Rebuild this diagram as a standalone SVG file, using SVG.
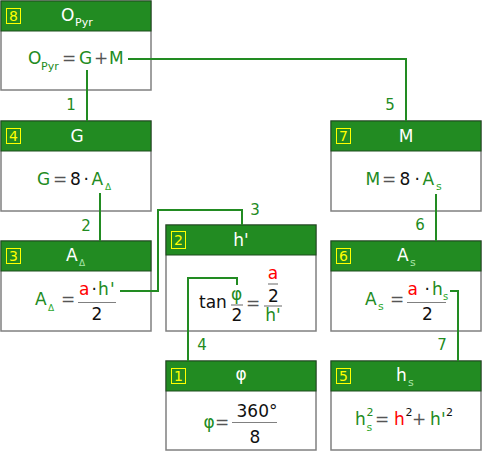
<svg xmlns="http://www.w3.org/2000/svg" width="482" height="452" viewBox="0 0 482 452">
<style>
text { font-family: "DejaVu Sans", "Liberation Sans", sans-serif; font-size: 17px; }
.body { fill: #ffffff; stroke: #808080; stroke-width: 1.5; }
.hdr { fill: #228B22; stroke: #1d4d1d; stroke-width: 1; }
.badge { fill: none; stroke: #ffff00; stroke-width: 1; }
.bnum { fill: #ffff00; font-size: 14px; text-anchor: middle; }
.title { fill: #ffffff; }
.tsub { fill: #a8e6a8; font-size: 11px; }
.v { fill: #228B22; }
.r { fill: #ff0000; }
.k { fill: #111111; }
.op { fill: #555555; }
.sub { fill: #2ea82e; font-size: 11px; }
.sup { font-size: 11px; }
.m { text-anchor: middle; }
.bar { stroke: #808080; stroke-width: 1.2; }
.conn { fill: none; stroke: #228B22; stroke-width: 2; }
.lbl { fill: #228B22; font-size: 15px; text-anchor: middle; }
</style>

<g id="node8">
  <rect class="body" x="1" y="1" width="150" height="89"/>
  <rect class="hdr" x="1" y="1" width="150" height="30"/>
  <rect class="badge" x="6.5" y="8.5" width="14" height="15"/>
  <text class="bnum" x="13.5" y="21">8</text>
  <text class="title" x="61" y="21">O</text>
  <text class="tsub" x="75" y="26" style="fill:#ffffff">Pyr</text>
  <text class="v" x="28" y="64">O</text>
  <text class="v" x="41" y="70" style="font-size:11px">Pyr</text>
  <text class="op" x="62" y="64">=</text>
  <text class="v" x="79" y="64">G</text>
  <text class="op" x="94" y="64">+</text>
  <text class="v" x="109" y="64">M</text>
</g>

<g id="node4">
  <rect class="body" x="1" y="121" width="150" height="90"/>
  <rect class="hdr" x="1" y="121" width="150" height="30"/>
  <rect class="badge" x="6.5" y="128.5" width="14" height="15"/>
  <text class="bnum" x="13.5" y="141">4</text>
  <text class="title m" x="77" y="142">G</text>
  <text class="v" x="37" y="185">G</text>
  <text class="op" x="53" y="185">=</text>
  <text class="k" x="70" y="185">8</text>
  <text class="k" x="83.5" y="185">·</text>
  <text class="v" x="91.5" y="185">A</text>
  <text class="sub" x="105" y="190" style="font-size:9px">Δ</text>
</g>

<g id="node3">
  <rect class="body" x="1" y="241" width="150" height="90"/>
  <rect class="hdr" x="1" y="241" width="150" height="30"/>
  <rect class="badge" x="6.5" y="248.5" width="14" height="15"/>
  <text class="bnum" x="13.5" y="261">3</text>
  <text class="title" x="66" y="261">A</text>
  <text class="tsub" x="79" y="266" style="font-size:9px">Δ</text>
  <text class="v" x="35" y="305">A</text>
  <text class="sub" x="48" y="311" style="font-size:9px">Δ</text>
  <text class="op" x="61" y="305">=</text>
  <line class="bar" x1="78" y1="302.5" x2="116" y2="302.5"/>
  <text class="r" x="79" y="295">a</text>
  <text class="k" x="91.5" y="295">·</text>
  <text class="v" x="98" y="295">h</text>
  <text class="v" x="110" y="295">'</text>
  <text class="k m" x="97" y="320">2</text>
</g>

<g id="node2">
  <rect class="body" x="166" y="225" width="150" height="106"/>
  <rect class="hdr" x="166" y="225" width="150" height="30"/>
  <rect class="badge" x="171.5" y="231.5" width="14" height="17"/>
  <text class="bnum" x="178.5" y="245">2</text>
  <text class="title m" x="241" y="246">h'</text>
  <text class="k" x="199" y="308">tan</text>
  <text class="v m" x="236.5" y="300">φ</text>
  <line class="bar" x1="231" y1="305" x2="243" y2="305"/>
  <text class="k m" x="237" y="321">2</text>
  <text class="op" x="246" y="309">=</text>
  <text class="r m" x="273" y="279">a</text>
  <line class="bar" x1="268" y1="284" x2="278" y2="284"/>
  <text class="k m" x="273.5" y="302">2</text>
  <line class="bar" x1="264" y1="306" x2="282" y2="306"/>
  <text class="v m" x="273" y="321">h'</text>
</g>

<g id="node1">
  <rect class="body" x="166" y="361" width="150" height="89"/>
  <rect class="hdr" x="166" y="361" width="150" height="30"/>
  <rect class="badge" x="171.5" y="368.5" width="14" height="15"/>
  <text class="bnum" x="178.5" y="381">1</text>
  <text class="title m" x="241" y="380">φ</text>
  <text class="v m" x="209" y="428">φ</text>
  <text class="op" x="215" y="428">=</text>
  <line class="bar" x1="232" y1="422.5" x2="277" y2="422.5"/>
  <text class="k m" x="257" y="417">360°</text>
  <text class="k m" x="255" y="443">8</text>
</g>

<g id="node7">
  <rect class="body" x="331" y="121" width="150" height="90"/>
  <rect class="hdr" x="331" y="121" width="150" height="30"/>
  <rect class="badge" x="336.5" y="128.5" width="14" height="15"/>
  <text class="bnum" x="343.5" y="141">7</text>
  <text class="title m" x="406" y="142">M</text>
  <text class="v" x="365.5" y="185">M</text>
  <text class="op" x="382" y="185">=</text>
  <text class="k" x="399.5" y="185">8</text>
  <text class="k" x="414.5" y="185">·</text>
  <text class="v" x="422.5" y="185">A</text>
  <text class="sub" x="436" y="190">s</text>
</g>

<g id="node6">
  <rect class="body" x="331" y="241" width="150" height="90"/>
  <rect class="hdr" x="331" y="241" width="150" height="30"/>
  <rect class="badge" x="336.5" y="248.5" width="14" height="15"/>
  <text class="bnum" x="343.5" y="261">6</text>
  <text class="title" x="397" y="261">A</text>
  <text class="tsub" x="410" y="266">s</text>
  <text class="v" x="365" y="305">A</text>
  <text class="sub" x="378" y="310">s</text>
  <text class="op" x="390" y="305">=</text>
  <line class="bar" x1="407" y1="302.5" x2="446" y2="302.5"/>
  <text class="r" x="407.5" y="295">a</text>
  <text class="k" x="424.5" y="295">·</text>
  <text class="v" x="432" y="295">h</text>
  <text class="sub" x="443" y="300" style="font-size:10px">s</text>
  <text class="k m" x="427.5" y="320">2</text>
</g>

<g id="node5">
  <rect class="body" x="331" y="361" width="150" height="89"/>
  <rect class="hdr" x="331" y="361" width="150" height="30"/>
  <rect class="badge" x="336.5" y="368.5" width="14" height="15"/>
  <text class="bnum" x="343.5" y="381">5</text>
  <text class="title" x="396" y="381">h</text>
  <text class="tsub" x="408" y="386">s</text>
  <text class="v" x="355" y="425">h</text>
  <text class="v sup" x="366.5" y="416">2</text>
  <text class="sub" x="366.5" y="431">s</text>
  <text class="op" x="375" y="425">=</text>
  <text class="r" x="394" y="425">h</text>
  <text class="k sup" x="405.5" y="416">2</text>
  <text class="op" x="412" y="425">+</text>
  <text class="v" x="430" y="425">h</text>
  <text class="v" x="441" y="425">'</text>
  <text class="k sup" x="446" y="416">2</text>
</g>

<g id="connectors">
  <path class="conn" d="M87 70 V121"/>
  <path class="conn" d="M128 59 H406 V121"/>
  <path class="conn" d="M100 193 V241"/>
  <path class="conn" d="M120 291 H158 V210 H242 V225"/>
  <path class="conn" d="M237 285 V278 H188 V361"/>
  <path class="conn" d="M436 194 V241"/>
  <path class="conn" d="M450 291 H458 V361"/>
  <text class="lbl" x="71" y="110">1</text>
  <text class="lbl" x="390" y="110">5</text>
  <text class="lbl" x="86" y="231">2</text>
  <text class="lbl" x="255" y="215">3</text>
  <text class="lbl" x="202" y="350">4</text>
  <text class="lbl" x="420" y="230">6</text>
  <text class="lbl" x="442" y="350">7</text>
</g>
</svg>
